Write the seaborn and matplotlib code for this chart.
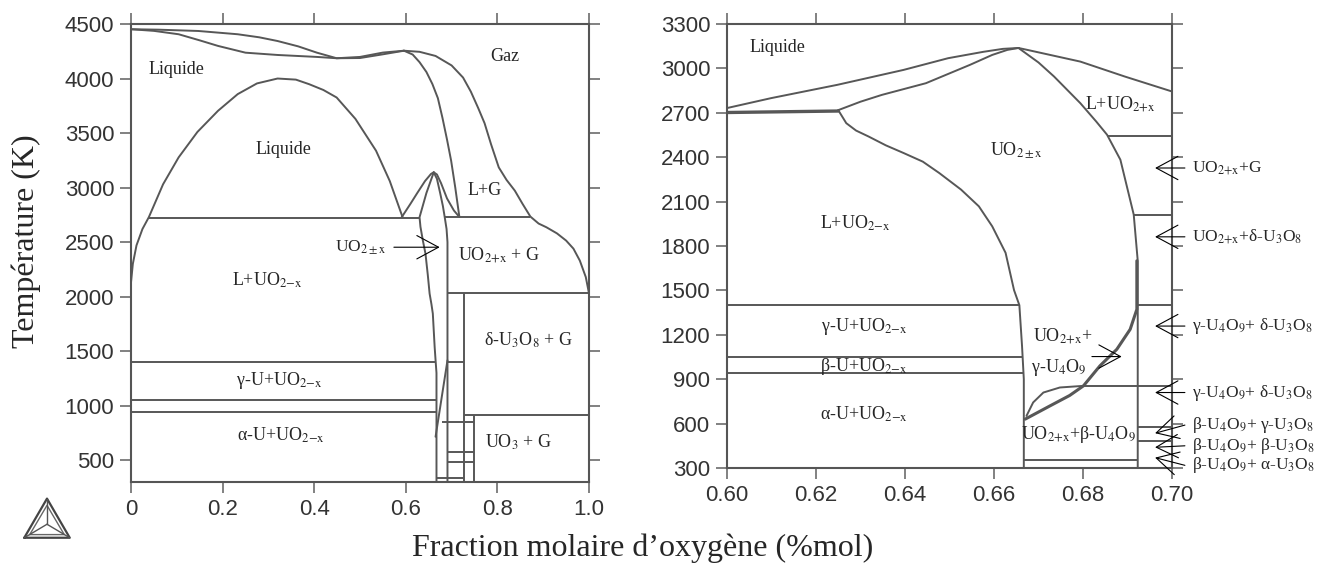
import matplotlib
matplotlib.use('Agg')
import matplotlib.pyplot as plt
import seaborn as sns

sns.set_theme(style='ticks')
plt.rcParams['font.family'] = ['Liberation Sans', 'DejaVu Sans']
plt.rcParams['mathtext.fontset'] = 'stix'

TRAIT = '#575757'
SERIF = ['Liberation Serif', 'DejaVu Serif']

# ---------------- Diagramme U-O complet (gauche) ----------------
g_vap_haut_x = [0, 0.06, 0.147, 0.233, 0.28, 0.32, 0.365, 0.406, 0.449, 0.50, 0.55, 0.596]
g_vap_haut_T = [4452, 4448, 4436, 4406, 4378, 4344, 4295, 4237, 4186, 4198, 4238, 4255]
g_vap_bas_x = [0, 0.05, 0.104, 0.15, 0.19, 0.25, 0.32, 0.406, 0.449, 0.50, 0.55, 0.596]
g_vap_bas_T = [4452, 4437, 4406, 4350, 4299, 4237, 4216, 4198, 4186, 4188, 4222, 4255]
g_liq_droite_x = [0.596, 0.615, 0.63, 0.645, 0.658, 0.670, 0.680, 0.690, 0.699, 0.708, 0.717]
g_liq_droite_T = [4255, 4220, 4150, 4060, 3950, 3820, 3640, 3440, 3246, 3000, 2730]
g_rosee_x = [0.596, 0.63, 0.665, 0.70, 0.725, 0.742, 0.758, 0.772, 0.786, 0.803, 0.82,
             0.838, 0.855, 0.872, 0.89, 0.907, 0.93, 0.95, 0.966, 0.98, 0.993, 1.0]
g_rosee_T = [4255, 4245, 4207, 4120, 4009, 3880, 3730, 3590, 3399, 3185, 3070,
             2972, 2850, 2734, 2670, 2636, 2580, 2514, 2440, 2330, 2179, 2030]
g_dome_x = [0, 0.004, 0.012, 0.025, 0.039, 0.07, 0.104, 0.145, 0.19, 0.233, 0.275,
            0.32, 0.36, 0.389, 0.42, 0.449, 0.49, 0.535, 0.565, 0.593]
g_dome_T = [2130, 2300, 2470, 2620, 2729, 3030, 3277, 3510, 3704, 3857, 3955,
            4000, 3990, 3948, 3895, 3826, 3630, 3338, 3060, 2728]
g_pic_x = [0.591, 0.61, 0.625, 0.642, 0.655, 0.661, 0.668, 0.677, 0.69, 0.705, 0.717]
g_pic_T = [2728, 2850, 2950, 3060, 3125, 3140, 3120, 3040, 2900, 2790, 2730]
g_uo2_moins_x = [0.661, 0.645, 0.630, 0.632, 0.637, 0.643, 0.648, 0.652, 0.656, 0.659,
                 0.663, 0.665, 0.667, 0.667]
g_uo2_moins_T = [3140, 2950, 2728, 2640, 2520, 2393, 2200, 2027, 1930, 1844,
                 1538, 1416, 1300, 300]
g_uo2_plus_x = [0.661, 0.668, 0.675, 0.681, 0.685, 0.689, 0.691, 0.691]
g_uo2_plus_T = [3140, 3080, 2950, 2830, 2728, 2620, 2500, 300]
g_u4o9_x = [0.691, 0.665]
g_u4o9_T = [1416, 715]

g_hlines_T = [2720, 2728, 2030, 1400, 1400, 1050, 945, 915, 850, 578, 487, 340]
g_hlines_x0 = [0.039, 0.685, 0.691, 0, 0.691, 0, 0, 0.727, 0.68, 0.691, 0.691, 0.665]
g_hlines_x1 = [0.630, 0.872, 1.0, 0.665, 0.727, 0.665, 0.665, 1.0, 0.749, 0.749, 0.749, 0.727]
g_vlines_x = [0.727, 0.749]
g_vlines_T0 = [300, 300]
g_vlines_T1 = [2030, 915]

g_etiquettes = [
    ('Liquide', 0.099, 4085),
    ('Gaz', 0.816, 4206),
    ('Liquide', 0.332, 3353),
    ('L+G', 0.773, 2972),
    ('UO$_{2\\mathrm{+x}}$ + G', 0.803, 2377),
    ('L+UO$_{2\\mathrm{-x}}$', 0.298, 2148),
    ('δ-U$_3$O$_8$ + G', 0.868, 1600),
    ('γ-U+UO$_{2\\mathrm{-x}}$', 0.324, 1233),
    ('α-U+UO$_{2\\mathrm{-x}}$', 0.328, 730),
    ('UO$_3$ + G', 0.846, 663),
]
g_xticks = [0, 0.2, 0.4, 0.6, 0.8, 1.0]
g_xticklabels = ['0', '0.2', '0.4', '0.6', '0.8', '1.0']
g_yticks = [500, 1000, 1500, 2000, 2500, 3000, 3500, 4000, 4500]

# ---------------- Zoom 0.60 - 0.70 (droite) ----------------
d_liq_g_x = [0.60, 0.6099, 0.6248, 0.6397, 0.6497, 0.6576, 0.6620, 0.6655]
d_liq_g_T = [2732, 2799, 2889, 2990, 3069, 3112, 3132, 3138]
d_sol_g_x = [0.6250, 0.6300, 0.6348, 0.6447, 0.6546, 0.6596, 0.6630, 0.6655]
d_sol_g_T = [2718, 2775, 2821, 2900, 3024, 3091, 3125, 3138]
d_solvus_x = [0.6250, 0.6268, 0.6290, 0.6318, 0.6357, 0.6397, 0.6440, 0.6477, 0.6526,
              0.6566, 0.6596, 0.6626, 0.6645, 0.6657, 0.6663, 0.6667, 0.6667]
d_solvus_T = [2718, 2630, 2580, 2540, 2480, 2428, 2370, 2293, 2181,
              2068, 1933, 1754, 1502, 1400, 1124, 900, 300]
d_liq_d_x = [0.6655, 0.6675, 0.6794, 0.6894, 0.70]
d_liq_d_T = [3138, 3125, 3046, 2945, 2844]
d_sol_d_x = [0.6655, 0.6700, 0.6735, 0.6794, 0.6830, 0.6854, 0.6884, 0.6914, 0.6923, 0.6923]
d_sol_d_T = [3138, 3040, 2945, 2765, 2640, 2552, 2383, 2012, 1700, 300]
d_u4o9_x = [0.6670, 0.6726, 0.6770, 0.6801, 0.6838, 0.6876, 0.6906, 0.6921, 0.6921]
d_u4o9_T = [630, 720, 790, 855, 990, 1102, 1237, 1372, 1700]
d_u4o9_b_x = [0.6673, 0.6688, 0.6711, 0.6748, 0.6801]
d_u4o9_b_T = [652, 743, 810, 844, 855]

d_hlines_T = [2540, 2012, 1400, 1400, 1050, 945, 855, 574, 480, 355]
d_hlines_x0 = [0.6854, 0.6914, 0.60, 0.6923, 0.60, 0.60, 0.6801, 0.6923, 0.6923, 0.6667]
d_hlines_x1 = [0.70, 0.70, 0.6657, 0.70, 0.6665, 0.6667, 0.70, 0.70, 0.70, 0.6923]
d_eutect_x = [0.60, 0.625]
d_eutect_T = [2702, 2712]

d_etiquettes = [
    ('Liquide', 0.6114, 3143),
    ('UO$_{2\\pm\\mathrm{x}}$', 0.665, 2450),
    ('L+UO$_{2\\mathrm{+x}}$', 0.6884, 2761),
    ('L+UO$_{2\\mathrm{-x}}$', 0.6288, 1952),
    ('γ-U+UO$_{2\\mathrm{-x}}$', 0.6308, 1259),
    ('β-U+UO$_{2\\mathrm{-x}}$', 0.6308, 985),
    ('α-U+UO$_{2\\mathrm{-x}}$', 0.6308, 664),
    ('UO$_{2\\mathrm{+x}}$+β-U$_4$O$_9$', 0.679, 529),
    ('UO$_{2\\mathrm{+x}}$+', 0.6755, 1192),
    ('γ-U$_4$O$_9$', 0.6745, 979),
]
# (texte, T du texte, T de la pointe)
d_fleches = [
    ('UO$_{2\\mathrm{+x}}$+G', 2327, 2327),
    ('UO$_{2\\mathrm{+x}}$+δ-U$_3$O$_8$', 1862, 1862),
    ('γ-U$_4$O$_9$+ δ-U$_3$O$_8$', 1259, 1259),
    ('γ-U$_4$O$_9$+ δ-U$_3$O$_8$', 810, 810),
    ('β-U$_4$O$_9$+ γ-U$_3$O$_8$', 590, 535),
    ('β-U$_4$O$_9$+ β-U$_3$O$_8$', 450, 440),
    ('β-U$_4$O$_9$+ α-U$_3$O$_8$', 318, 370),
]
d_xticks = [0.60, 0.62, 0.64, 0.66, 0.68, 0.70]
d_yticks = [300, 600, 900, 1200, 1500, 1800, 2100, 2400, 2700, 3000, 3300]

# logo (triangle)
logo_ext_x = [0, 0.5, 1, 0]
logo_ext_y = [0, 0.87, 0, 0]
logo_int_x = [0.12, 0.5, 0.88, 0.12]
logo_int_y = [0.07, 0.72, 0.07, 0.07]


def courbe(ax, x, y, lw=1.4):
    sns.lineplot(x=x, y=y, ax=ax, sort=False, estimator=None,
                 color=TRAIT, lw=lw, legend=False)


def habiller(ax):
    for s in ax.spines.values():
        s.set_color('#555555')
        s.set_linewidth(1.5)
    ax.tick_params(direction='out', length=8, width=1.3, color='#777777',
                   top=True, right=True, labelsize=16, labelcolor='#333333', pad=4)
    ax.set_xlabel('')
    ax.set_ylabel('')


fleche = dict(arrowstyle='->,head_length=1.3,head_width=0.7', lw=0.8,
              color='black', shrinkA=0, shrinkB=0)

fig = plt.figure(figsize=(13.32, 5.72), dpi=100)
axg = fig.add_axes([131 / 1332, 1 - 482 / 572, 458 / 1332, 458 / 572])
axd = fig.add_axes([727 / 1332, 1 - 468 / 572, 445 / 1332, 444 / 572])

# ---- gauche ----
for x, y in [(g_vap_haut_x, g_vap_haut_T), (g_vap_bas_x, g_vap_bas_T),
             (g_liq_droite_x, g_liq_droite_T), (g_rosee_x, g_rosee_T),
             (g_dome_x, g_dome_T), (g_pic_x, g_pic_T),
             (g_uo2_moins_x, g_uo2_moins_T), (g_uo2_plus_x, g_uo2_plus_T),
             (g_u4o9_x, g_u4o9_T)]:
    courbe(axg, x, y)
axg.hlines(g_hlines_T, g_hlines_x0, g_hlines_x1, color=TRAIT, lw=1.4)
axg.vlines(g_vlines_x, g_vlines_T0, g_vlines_T1, color=TRAIT, lw=1.4)
for txt, x, y in g_etiquettes:
    axg.text(x, y, txt, ha='center', va='center', fontsize=13, family=SERIF)
axg.text(0.557, 2453, 'UO$_{2\\pm\\mathrm{x}}$', ha='right', va='center',
         fontsize=12.5, family=SERIF)
axg.annotate('', xy=(0.674, 2453), xytext=(0.574, 2453), arrowprops=fleche)
axg.set_xlim(0, 1)
axg.set_ylim(300, 4500)
axg.set_xticks(g_xticks, g_xticklabels)
axg.set_yticks(g_yticks)
habiller(axg)

# ---- droite ----
for x, y in [(d_liq_g_x, d_liq_g_T), (d_sol_g_x, d_sol_g_T),
             (d_solvus_x, d_solvus_T), (d_liq_d_x, d_liq_d_T),
             (d_sol_d_x, d_sol_d_T), (d_u4o9_b_x, d_u4o9_b_T)]:
    courbe(axd, x, y)
courbe(axd, d_u4o9_x, d_u4o9_T, lw=2.2)
courbe(axd, d_eutect_x, d_eutect_T, lw=2.4)
axd.hlines(d_hlines_T, d_hlines_x0, d_hlines_x1, color=TRAIT, lw=1.4)
for txt, x, y in d_etiquettes:
    axd.text(x, y, txt, ha='center', va='center', fontsize=13, family=SERIF)
axd.annotate('', xy=(0.6887, 1053), xytext=(0.6820, 1053), arrowprops=fleche)
for txt, t_txt, t_pointe in d_fleches:
    axd.annotate('', xy=(0.6962, t_pointe), xytext=(0.7029, t_txt),
                 arrowprops=fleche, annotation_clip=False)
    axd.text(0.7045, t_txt, txt, ha='left', va='center', fontsize=12.5,
             family=SERIF, clip_on=False)
axd.set_xlim(0.60, 0.70)
axd.set_ylim(300, 3300)
axd.set_xticks(d_xticks, [f'{v:.2f}' for v in d_xticks])
axd.set_yticks(d_yticks)
habiller(axd)

# ---- titres d'axes ----
fig.text(26 / 1332, 1 - 241 / 572, 'Température (K)', rotation=90,
         ha='center', va='center', fontsize=23, family=SERIF)
fig.text(643 / 1332, 1 - 548 / 572, 'Fraction molaire d\u2019oxygène (%mol)',
         ha='center', va='center', fontsize=23, family=SERIF)

# ---- logo ----
axl = fig.add_axes([22 / 1332, 1 - 540 / 572, 50 / 1332, 45 / 572])
axl.plot(logo_ext_x, logo_ext_y, color='#444444', lw=1.6)
axl.plot(logo_int_x, logo_int_y, color='#666666', lw=1.0)
for vx, vy in zip(logo_ext_x[:3], logo_ext_y[:3]):
    axl.plot([vx, 0.5], [vy, 0.3], color='#555555', lw=1.0)
axl.set_xlim(-0.05, 1.05)
axl.set_ylim(-0.05, 0.95)
axl.axis('off')

fig.savefig('out.png', dpi=100, facecolor='white')
